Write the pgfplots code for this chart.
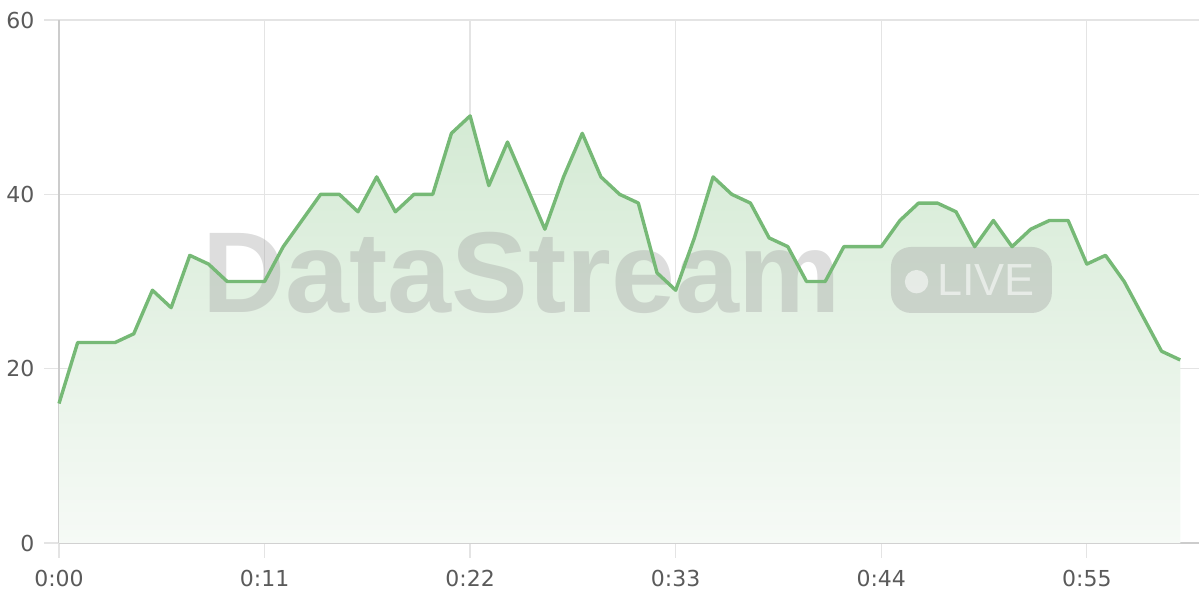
\documentclass[border=0pt]{standalone}
\usepackage{fontspec}
\setmainfont{DejaVu Sans}
\newfontfamily\wmfont{Liberation Sans}
\usepackage{pgfplots}
\pgfplotsset{compat=1.18}

\definecolor{linegreen}{RGB}{118,185,118}
\definecolor{filltop}{RGB}{212,234,212}
\definecolor{fillbot}{RGB}{246,250,246}
\definecolor{gridgray}{RGB}{228,228,228}
\definecolor{axisgray}{RGB}{204,204,204}
\definecolor{labelgray}{RGB}{90,90,90}
\definecolor{wmgray}{RGB}{160,160,160}

\begin{document}
\begin{tikzpicture}
\begin{axis}[
    scale only axis,
    width=1140pt, height=523pt,
    xmin=0, xmax=61, ymin=0, ymax=60,
    axis lines=left,
    axis line style={-, draw=axisgray, line width=2pt},
    xtick={0,11,22,33,44,55},
    xticklabels={0:00,0:11,0:22,0:33,0:44,0:55},
    ytick={0,20,40,60},
    grid=major,
    grid style={draw=gridgray, line width=1.3pt},
    tick align=outside,
    major tick length=15pt,
    tick style={draw=gridgray, line width=1.3pt},
    tick label style={font=\fontsize{22}{26}\selectfont, text=labelgray},
    /pgf/number format/assume math mode=true,
    yticklabel style={xshift=-6pt},
    xticklabel style={yshift=-9pt},
    clip=false,
]
\coordinate (o) at (rel axis cs:0,0);

\addplot[draw=none, shading=axis, top color=filltop, bottom color=fillbot] coordinates {
(0,16) (1,23) (2,23) (3,23) (4,24) (5,29) (6,27) (7,33) (8,32) (9,30)
(10,30) (11,30) (12,34) (13,37) (14,40) (15,40) (16,38) (17,42) (18,38) (19,40)
(20,40) (21,47) (22,49) (23,41) (24,46) (25,41) (26,36) (27,42) (28,47) (29,42)
(30,40) (31,39) (32,31) (33,29) (34,35) (35,42) (36,40) (37,39) (38,35) (39,34)
(40,30) (41,30) (42,34) (43,34) (44,34) (45,37) (46,39) (47,39) (48,38) (49,34)
(50,37) (51,34) (52,36) (53,37) (54,37) (55,32) (56,33) (57,30) (58,26) (59,22)
(60,21)
} \closedcycle;

% watermark
\node[anchor=base west, inner sep=0pt, text=wmgray, opacity=0.36,
      font=\wmfont\bfseries\fontsize{115}{120}\selectfont]
      at (axis cs:7.65,26.5) {DataStream};
\fill[wmgray, opacity=0.36, rounded corners=20pt]
      (axis cs:44.52,26.39) rectangle (axis cs:53.13,33.96);
\fill[white, opacity=0.55] (axis cs:45.89,29.98) circle[radius=11.7pt];
\node[anchor=base west, inner sep=0pt, text=white, opacity=0.55,
      font=\wmfont\fontsize{45}{50}\selectfont]
      at (axis cs:46.98,28.45) {LIVE};

\addplot[draw=linegreen, line width=3.4pt, line join=round] coordinates {
(0,16) (1,23) (2,23) (3,23) (4,24) (5,29) (6,27) (7,33) (8,32) (9,30)
(10,30) (11,30) (12,34) (13,37) (14,40) (15,40) (16,38) (17,42) (18,38) (19,40)
(20,40) (21,47) (22,49) (23,41) (24,46) (25,41) (26,36) (27,42) (28,47) (29,42)
(30,40) (31,39) (32,31) (33,29) (34,35) (35,42) (36,40) (37,39) (38,35) (39,34)
(40,30) (41,30) (42,34) (43,34) (44,34) (45,37) (46,39) (47,39) (48,38) (49,34)
(50,37) (51,34) (52,36) (53,37) (54,37) (55,32) (56,33) (57,30) (58,26) (59,22)
(60,21)
};
\end{axis}
\pgfresetboundingbox
\path ([shift={(-59pt,-57pt)}]o) rectangle ++(1200pt,600pt);
\end{tikzpicture}
\end{document}
